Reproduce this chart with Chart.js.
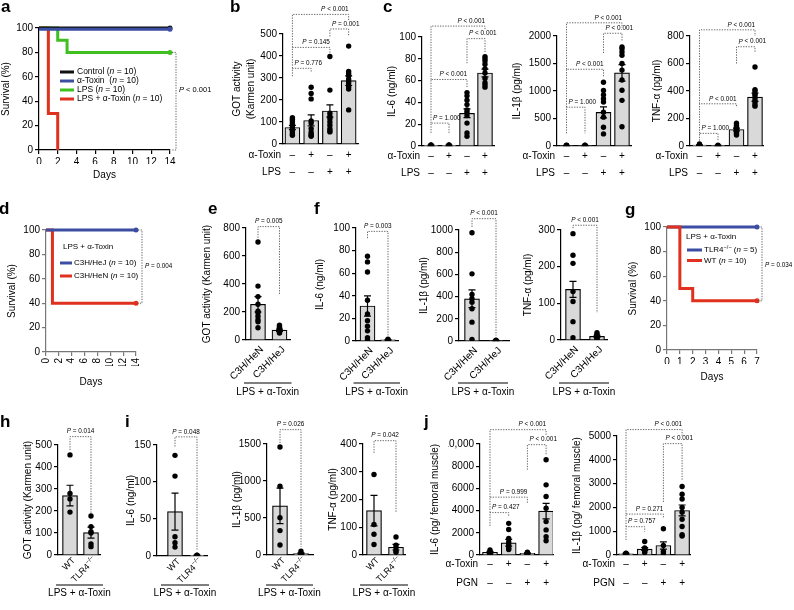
<!DOCTYPE html>
<html>
<head>
<meta charset="utf-8">
<title>Figure</title>
<script src="https://cdn.jsdelivr.net/npm/chart.js@4.4.1/dist/chart.umd.min.js"></script>
<style>
  html, body { margin: 0; padding: 0; background: #fff; }
  #fig { position: relative; width: 794px; height: 610px; overflow: hidden; }
  #fig canvas { position: absolute; }
  .tag { position: absolute; font: bold 17px "Liberation Sans", Arial, sans-serif; line-height: 20px; }
</style>
</head>
<body>
<div id="fig"></div>
<script>
// ---- survival data (days, % alive) ----
const days14 = [0, 2, 4, 6, 8, 10, 12, 14];
const days7 = [0, 1, 2, 3, 4, 5, 6, 7];
const survTicks = [0, 20, 40, 60, 80, 100];

const aControlDays = [0, 14], aControlSurv = [100, 100];
const aToxinDays = [0, 14], aToxinSurv = [99, 99];
const aLpsDays = [0, 2, 3, 14], aLpsSurv = [100, 90, 80, 80];
const aBothDays = [0, 1, 2], aBothSurv = [100, 30, 0];
const aNames = ['Control (*n* = 10)', 'α-Toxin  (*n* = 10)', 'LPS (*n* = 10)', 'LPS + α-Toxin (*n* = 10)'];

const dHeJDays = [0, 14], dHeJSurv = [100, 100];
const dHeNDays = [0, 1, 14], dHeNSurv = [100, 40, 40];
const dNames = ['C3H/HeJ (*n* = 10)', 'C3H/HeN (*n* = 10)'];

const gTlr4Days = [0, 7], gTlr4Surv = [100, 100];
const gWtDays = [0, 1, 2, 7], gWtSurv = [100, 50, 40, 40];
const gNames = ['TLR4^−/−^ (*n* = 5)', 'WT (*n* = 10)'];

// ---- group labels ----
const toxinRow = ['–', '+', '–', '+'];
const lpsRow = ['–', '–', '+', '+'];
const pgnRow = ['–', '–', '+', '+'];
const strains = ['C3H/HeN', 'C3H/HeJ'];
const genotypes = ['WT', 'TLR4^−/−^'];
const treat = 'LPS + α-Toxin';

// ---- b: GOT ----
const bTicks = [0, 100, 200, 300, 400, 500];
const bMean = [75, 107, 150, 288];
const bSem = [10, 25, 28, 22];
const bDots = [
  [120, 112, 105, 95, 85, 75, 65, 55, 45, 40],
  [258, 230, 205, 105, 95, 70, 55, 45, 40, 35],
  [398, 245, 140, 125, 115, 100, 85, 70, 60, 55],
  [445, 330, 320, 310, 295, 285, 275, 260, 250, 155]
];
const bP = ['*P* = 0.776', '*P* = 0.145', '*P* = 0.001', '*P* < 0.001'];

// ---- c: cytokines ----
const c1Ticks = [0, 20, 40, 60, 80, 100];
const c1Mean = [0.6, 0.6, 30, 67];
const c1Sem = [0.2, 0.2, 4, 3.5];
const c1Dots = [
  [1, 0.8, 0.6, 0.4], [1, 0.8, 0.6, 0.4],
  [49, 46, 42, 38, 33, 31, 28, 21, 12, 9],
  [82, 80, 78, 75, 71, 67, 62, 58, 56, 54]
];
const c1P = ['*P* = 1.000', '*P* < 0.001', '*P* < 0.001', '*P* < 0.001'];

const c2Ticks = [0, 500, 1000, 1500, 2000];
const c2Mean = [10, 10, 610, 1330];
const c2Sem = [3, 3, 100, 150];
const c2Dots = [
  [15, 10, 8, 5], [15, 10, 8, 5],
  [1160, 1010, 930, 860, 800, 615, 525, 340, 220],
  [1800, 1770, 1710, 1650, 1500, 1380, 1200, 1015, 830, 350]
];
const c2P = ['*P* = 1.000', '*P* < 0.001', '*P* < 0.001', '*P* < 0.001'];

const c3Ticks = [0, 200, 400, 600, 800];
const c3Mean = [6, 3, 120, 355];
const c3Sem = [2, 1, 10, 30];
const c3Dots = [
  [15, 8, 5, 3, 2], [5, 3, 2],
  [165, 150, 140, 130, 125, 120, 110, 100, 90, 80],
  [575, 410, 400, 380, 370, 350, 330, 320, 300, 290]
];
const c3P = ['*P* = 1.000', '*P* < 0.001', '*P* < 0.001', '*P* < 0.001'];

// ---- e, f: C3H strains ----
const eTicks = [0, 200, 400, 600, 800];
const eMean = [255, 70];
const eSem = [55, 8];
const eDots = [[700, 385, 310, 255, 205, 195, 170, 145, 130, 88], [105, 95, 90, 80, 75, 70, 65, 60, 55, 50]];
const eP = ['*P* = 0.005'];

const f1Ticks = [0, 20, 40, 60, 80, 100];
const f1Mean = [31, 1];
const f1Sem = [9, 0.3];
const f1Dots = [[75, 70, 61, 36, 24, 18, 13, 9, 3, 1], [1.5, 1, 0.8, 0.5]];
const f1P = ['*P* = 0.003'];

const f2Ticks = [0, 200, 400, 600, 800, 1000];
const f2Mean = [380, 5];
const f2Sem = [80, 1];
const f2Dots = [[975, 605, 420, 380, 350, 290, 170, 15], [8, 5, 3]];
const f2P = ['*P* < 0.001'];

const f3Ticks = [0, 100, 200, 300];
const f3Mean = [138, 10];
const f3Sem = [22, 3];
const f3Dots = [[290, 231, 209, 132, 105, 50, 6], [20, 15, 12, 10, 8, 5, 3]];
const f3P = ['*P* < 0.001'];

// ---- h, i: TLR4 ----
const hTicks = [0, 100, 200, 300, 400, 500];
const hMean = [270, 102];
const hSem = [47, 25];
const hDots = [[455, 280, 255, 195], [177, 129, 106, 100, 50, 38]];
const hP = ['*P* = 0.014'];

const i1Ticks = [0, 50, 100, 150];
const i1Mean = [60, 1];
const i1Sem = [25, 0.3];
const i1Dots = [[136, 108, 26, 18, 12], [1, 0.8, 0.6]];
const i1P = ['*P* = 0.048'];

const i2Ticks = [0, 500, 1000, 1500];
const i2Mean = [665, 20];
const i2Sem = [240, 8];
const i2Dots = [[1460, 930, 505, 330, 135], [50, 20, 10, 8, 5]];
const i2P = ['*P* = 0.026'];

const i3Ticks = [0, 100, 200, 300, 400];
const i3Mean = [160, 28];
const i3Sem = [55, 10];
const i3Dots = [[290, 110, 75, 38], [65, 35, 25, 15, 10]];
const i3P = ['*P* = 0.042'];

// ---- j: femoral muscle ----
const j1Ticks = [0, 2000, 4000, 6000, 8000, 10000];
const j1Mean = [250, 1100, 150, 3950];
const j1Sem = [80, 300, 50, 700];
const j1Dots = [
  [450, 300, 250, 200, 150, 100, 50],
  [2850, 2300, 1500, 1200, 1000, 800, 600, 500],
  [250, 200, 150, 120, 100, 80],
  [8580, 6320, 5270, 4220, 3010, 2260, 1650, 1290]
];
const j1P = ['*P* = 0.427', '*P* = 0.999', '*P* < 0.001', '*P* < 0.001'];

const j2Ticks = [0, 1000, 2000, 3000, 4000, 5000];
const j2Mean = [50, 250, 400, 1870];
const j2Sem = [15, 60, 150, 230];
const j2Dots = [
  [80, 60, 50, 40, 30, 20],
  [570, 300, 280, 250, 230, 200, 150, 100],
  [1100, 400, 150, 50],
  [2880, 2550, 2350, 2000, 1800, 1500, 1200, 850, 800]
];
const j2P = ['*P* = 0.757', '*P* = 0.271', '*P* < 0.001', '*P* < 0.001'];

// ---- styling ----
const FONT = '"Liberation Sans", Arial, Helvetica, sans-serif';
const BLACK = '#111111', BLUE = '#3b4ea3', GREEN = '#3fbf20', RED = '#e0301e';
Chart.defaults.font.family = FONT;
Chart.defaults.font.size = 10;
Chart.defaults.color = '#000';
Chart.defaults.animation = false;
Chart.defaults.plugins.legend.display = false;
Chart.defaults.plugins.tooltip.enabled = false;

const fig = document.getElementById('fig');
const M = {l: 62, t: 46, b: 62};

// '*x*' = italic, '^x^' = superscript
function rich(str) {
  return str.split(/(\*[^*]*\*|\^[^^]*\^)/).filter(s => s).map(s =>
    s[0] === '*' ? {t: s.slice(1, -1), it: true} :
    s[0] === '^' ? {t: s.slice(1, -1), sup: true} : {t: s});
}

function richWidth(ctx, str, size) {
  let w = 0;
  rich(str).forEach(s => {
    ctx.font = (s.it ? 'italic ' : '') + (s.sup ? size * 0.7 : size) + 'px ' + FONT;
    w += ctx.measureText(s.t).width;
  });
  return w;
}

function drawRich(ctx, str, x, y, size, align) {
  const total = richWidth(ctx, str, size);
  let cx = align === 'right' ? x - total : align === 'center' ? x - total / 2 : x;
  ctx.textAlign = 'left';
  ctx.textBaseline = 'middle';
  rich(str).forEach(s => {
    ctx.font = (s.it ? 'italic ' : '') + (s.sup ? size * 0.7 : size) + 'px ' + FONT;
    ctx.fillText(s.t, cx, y + (s.sup ? -size * 0.35 : 0));
    cx += ctx.measureText(s.t).width;
  });
}

function dotted(ctx, pts) {
  ctx.save();
  ctx.strokeStyle = '#555';
  ctx.lineWidth = 0.9;
  ctx.setLineDash([1.3, 1.3]);
  ctx.beginPath();
  pts.forEach((p, k) => k ? ctx.lineTo(p[0], p[1]) : ctx.moveTo(p[0], p[1]));
  ctx.stroke();
  ctx.restore();
}

// draws error bars, brackets, axis titles, group labels, legends
const decor = {
  id: 'decor',
  afterDraw(chart) {
    const o = chart.canvas._decor;
    const ctx = chart.ctx, xs = chart.scales.x, ys = chart.scales.y, A = chart.chartArea;
    const ox = o.off[0], oy = o.off[1];
    ctx.save();
    ctx.fillStyle = '#000';

    // mean +- SEM
    if (o.mean) {
      ctx.strokeStyle = '#000';
      ctx.lineWidth = 1.2;
      o.mean.forEach((m, i) => {
        const x = xs.getPixelForValue(i);
        const y1 = ys.getPixelForValue(m + o.sem[i]);
        const y2 = ys.getPixelForValue(Math.max(0, m - o.sem[i]));
        ctx.beginPath();
        ctx.moveTo(x, y1); ctx.lineTo(x, y2);
        ctx.moveTo(x - 3.5, y1); ctx.lineTo(x + 3.5, y1);
        if (m - o.sem[i] > 0) { ctx.moveTo(x - 3.5, y2); ctx.lineTo(x + 3.5, y2); }
        ctx.stroke();
      });
    }

    // significance brackets [from, to, top, leftLeg, rightLeg, labelIndex]
    (o.brackets || []).forEach(b => {
      const x1 = xs.getPixelForValue(b[0]), x2 = xs.getPixelForValue(b[1]);
      const yt = ys.getPixelForValue(b[2]);
      dotted(ctx, [[x1, ys.getPixelForValue(b[3])], [x1, yt], [x2, yt], [x2, ys.getPixelForValue(b[4])]]);
      const txt = o.p[b[5]];
      const w = richWidth(ctx, txt, 6.4);
      if (o.pCenter) drawRich(ctx, txt, (x1 + x2) / 2, yt - 5, 6.4, 'center');
      else if (w <= x2 - x1 + 2) drawRich(ctx, txt, x2, yt - 5, 6.4, 'right');
      else drawRich(ctx, txt, x1 + 2, yt - 5, 6.4, 'left');
    });

    // +/- rows
    (o.rows || []).forEach(r => {
      const y = A.bottom + r[2];
      drawRich(ctx, r[0], A.left - 2, y, 10, 'right');
      r[1].forEach((v, i) => drawRich(ctx, v, xs.getPixelForValue(i), y, 10, 'center'));
    });

    // slanted names + treatment line
    if (o.rot) {
      o.rot.forEach((s, i) => {
        ctx.save();
        ctx.translate(xs.getPixelForValue(i) + 4, A.bottom + o.rotDy);
        ctx.rotate(-Math.PI / 4);
        drawRich(ctx, s, 0, 0, o.rotSize, 'right');
        ctx.restore();
      });
      const xa = xs.getPixelForValue(0) - 14, xb = xs.getPixelForValue(o.rot.length - 1) + 12;
      ctx.strokeStyle = '#000';
      ctx.lineWidth = 1;
      ctx.beginPath();
      ctx.moveTo(xa, A.bottom + o.group[1]);
      ctx.lineTo(xb, A.bottom + o.group[1]);
      ctx.stroke();
      drawRich(ctx, o.group[0], (xa + xb) / 2, A.bottom + o.group[2], 10, 'center');
    }

    // y title
    if (o.yTitle) {
      const yc = (A.top + A.bottom) / 2;
      o.yTitle.forEach((t, k) => {
        ctx.save();
        ctx.translate(A.left - o.yDx[k], yc);
        ctx.rotate(-Math.PI / 2);
        drawRich(ctx, t, 0, 0, 10, 'center');
        ctx.restore();
      });
    }

    if (o.xTitle) drawRich(ctx, o.xTitle[0], (A.left + A.right) / 2, o.xTitle[1] - oy, 10, 'center');

    // survival legend (page coordinates)
    if (o.legend) {
      const g = o.legend;
      if (g.title) drawRich(ctx, g.title, g.tx0 - ox, g.ty - oy, g.size, 'left');
      g.items.forEach((it, k) => {
        const y = g.y0 + k * g.dy - oy;
        ctx.strokeStyle = it[1];
        ctx.lineWidth = 3;
        ctx.beginPath();
        ctx.moveTo(g.x0 - ox, y);
        ctx.lineTo(g.x1 - ox, y);
        ctx.stroke();
        drawRich(ctx, it[0], g.tx - ox, y, g.size, 'left');
      });
    }

    // survival log-rank bracket
    if (o.kmP) {
      const p = o.kmP;
      const x = xs.getPixelForValue(xs.max) + p.dx;
      const y1 = ys.getPixelForValue(p.ya), y2 = ys.getPixelForValue(p.yb);
      dotted(ctx, [[x - 4, y1], [x, y1], [x, y2], [x - 4, y2]]);
      drawRich(ctx, p.text, x + 3, ys.getPixelForValue(p.ty), p.size, 'left');
    }
    ctx.restore();
  }
};

function makeCanvas(L, mr) {
  const c = document.createElement('canvas');
  const left = L.ax - M.l, top = L.top - M.t;
  c.width = Math.round(L.end - L.ax + M.l + mr);
  c.height = Math.round(L.bot - L.top + M.t + M.b);
  c.style.left = left + 'px';
  c.style.top = top + 'px';
  fig.appendChild(c);
  return {c, left, top};
}

function yAxis(ticks, col, fmt) {
  return {
    min: 0, max: ticks[ticks.length - 1],
    afterBuildTicks: s => { s.ticks = ticks.map(v => ({value: v})); },
    afterFit: s => { s.width = 32; },
    ticks: {padding: 2, callback: fmt || (v => v)},
    grid: {drawOnChartArea: false, drawTicks: true, tickLength: 4, color: col, lineWidth: 1.2},
    border: {display: true, color: col, width: 1.2}
  };
}

function barChart(L, d) {
  const {c, left, top} = makeCanvas(L, 14);
  const xmin = -(L.c0 - L.ax) / L.w;
  const xmax = xmin + (L.end - L.ax) / L.w;
  const pts = [];
  d.dots.forEach((arr, i) => arr.forEach(v => pts.push({x: i, y: v})));
  c._decor = Object.assign({off: [left, top], rotDy: 8, rotSize: 10}, d);
  new Chart(c, {
    type: 'bar',
    data: {
      datasets: [
        {type: 'bar', data: d.mean.map((v, i) => ({x: i, y: v})), backgroundColor: '#d9d9d9',
          borderColor: '#000', borderWidth: 1.2, barThickness: 15, order: 2},
        {type: 'scatter', data: pts, pointRadius: 2.7, pointBackgroundColor: '#000',
          pointBorderWidth: 0, order: 1}
      ]
    },
    options: {
      responsive: false,
      animation: false,
      layout: {padding: {left: M.l - 32, top: M.t, right: 14, bottom: M.b - 8}},
      scales: {
        x: {type: 'linear', min: xmin, max: xmax, offset: false, ticks: {display: false},
          grid: {display: false}, border: {color: '#000', width: 1.2},
          afterFit: s => { s.height = 8; }},
        y: yAxis(d.ticks, '#000', d.fmt)
      }
    },
    plugins: [decor]
  });
}

function kmChart(L, d) {
  const {c, left, top} = makeCanvas(L, L.mr);
  c._decor = Object.assign({off: [left, top]}, d);
  new Chart(c, {
    type: 'line',
    data: {
      datasets: d.series.map(s => ({
        data: s[0].map((x, i) => ({x: x, y: s[1][i]})),
        borderColor: s[2], borderWidth: 3, stepped: 'before', fill: false, clip: false,
        pointRadius: s[0].map((x, i) => (i === s[0].length - 1 && s[3]) ? 2.5 : 0),
        pointBackgroundColor: s[2], pointBorderWidth: 0
      }))
    },
    options: {
      responsive: false,
      animation: false,
      layout: {padding: {left: M.l - 32, top: M.t, right: L.mr, bottom: M.b - 14}},
      scales: {
        x: {type: 'linear', min: 0, max: d.xticks[d.xticks.length - 1],
          afterBuildTicks: s => { s.ticks = d.xticks.map(v => ({value: v})); },
          afterFit: s => { s.height = 14; },
          ticks: {autoSkip: false, minRotation: L.rot, maxRotation: L.rot, padding: 2},
          grid: {drawOnChartArea: false, tickLength: 4, color: d.col, lineWidth: 1.2},
          border: {color: d.col, width: 1.2}},
        y: yAxis(survTicks, d.col)
      }
    },
    plugins: [decor]
  });
}

// ---- a ----
kmChart({ax: 39, end: 170, top: 28, bot: 150, mr: 50, rot: 0}, {
  xticks: days14, col: '#000',
  series: [
    [aToxinDays, aToxinSurv, BLUE, true],
    [aControlDays, aControlSurv, BLACK, true],
    [aLpsDays, aLpsSurv, GREEN, true],
    [aBothDays, aBothSurv, RED, false]
  ],
  yTitle: ['Survival (%)'], yDx: [33], xTitle: ['Days', 175],
  legend: {x0: 60, x1: 74, tx: 77, y0: 72, dy: 9, size: 8.5,
    items: [[aNames[0], BLACK], [aNames[1], BLUE], [aNames[2], GREEN], [aNames[3], RED]]},
  kmP: {dx: 6, ya: 80, yb: 0, ty: 49, text: '*P* < 0.001', size: 7.5}
});

// ---- b ----
barChart({ax: 283, end: 358, top: 34, bot: 143.5, c0: 292.4, w: 18.75}, {
  ticks: bTicks, mean: bMean, sem: bSem, dots: bDots, p: bP,
  yTitle: ['GOT activity', '(Karmen unit)'], yDx: [46, 32],
  rows: [['α-Toxin', toxinRow, 11], ['LPS', lpsRow, 28]],
  brackets: [[0, 1, 344, 308, 328, 0], [0, 2, 439, 344, 414, 1], [2, 3, 523, 489, 492, 2], [0, 3, 589, 439, 560, 3]]
});

// ---- c ----
barChart({ax: 422, end: 494, top: 37, bot: 146, c0: 431, w: 18}, {
  ticks: c1Ticks, mean: c1Mean, sem: c1Sem, dots: c1Dots, p: c1P,
  yTitle: ['IL-6 (ng/ml)'], yDx: [30],
  rows: [['α-Toxin', toxinRow, 10], ['LPS', lpsRow, 27]],
  brackets: [[0, 1, 21, 12, 12, 0], [0, 2, 61, 21, 53, 1], [2, 3, 98.5, 76, 86, 2], [0, 3, 110, 61, 106, 3]]
});
barChart({ax: 557, end: 631, top: 36, bot: 145.5, c0: 566.5, w: 18.5}, {
  ticks: c2Ticks, mean: c2Mean, sem: c2Sem, dots: c2Dots, p: c2P,
  yTitle: ['IL-1β (pg/ml)'], yDx: [40],
  rows: [['α-Toxin', toxinRow, 10], ['LPS', lpsRow, 27]],
  brackets: [[0, 1, 706, 230, 230, 0], [0, 2, 1395, 706, 1267, 1], [2, 3, 2050, 1690, 1895, 2], [0, 3, 2240, 1395, 2150, 3]]
});
barChart({ax: 690, end: 763, top: 36, bot: 145.5, c0: 699.5, w: 18.5}, {
  ticks: c3Ticks, mean: c3Mean, sem: c3Sem, dots: c3Dots, p: c3P,
  yTitle: ['TNF-α (pg/ml)'], yDx: [33],
  rows: [['α-Toxin', toxinRow, 10], ['LPS', lpsRow, 27]],
  brackets: [[0, 1, 92, 39, 39, 0], [0, 2, 307, 92, 280, 1], [2, 3, 722, 600, 678, 2], [0, 3, 845, 307, 800, 3]]
});

// ---- d ----
kmChart({ax: 46, end: 136, top: 230, bot: 352, mr: 45, rot: 90}, {
  xticks: days14, col: '#777',
  series: [[dHeJDays, dHeJSurv, BLUE, true], [dHeNDays, dHeNSurv, RED, true]],
  yTitle: ['Survival (%)'], yDx: [34], xTitle: ['Days', 382],
  legend: {title: treat, tx0: 63, ty: 247, x0: 60, x1: 72, tx: 74, y0: 263, dy: 13, size: 8,
    items: [[dNames[0], BLUE], [dNames[1], RED]]},
  kmP: {dx: 6, ya: 100, yb: 40, ty: 70, text: '*P* = 0.004', size: 6.3}
});

// ---- e ----
barChart({ax: 246, end: 290, top: 228, bot: 340, c0: 258, w: 21.5}, {
  ticks: eTicks, mean: eMean, sem: eSem, dots: eDots, p: eP, pCenter: true,
  yTitle: ['GOT activity (Karmen unit)'], yDx: [39],
  rot: strains, group: [treat, 43, 52],
  brackets: [[0, 1, 810, 730, 320, 0]]
});

// ---- f ----
barChart({ax: 356, end: 398, top: 228, bot: 341, c0: 367.5, w: 20.5}, {
  ticks: f1Ticks, mean: f1Mean, sem: f1Sem, dots: f1Dots, p: f1P, pCenter: true,
  yTitle: ['IL-6 (ng/ml)'], yDx: [36],
  rot: strains, group: [treat, 42, 51],
  brackets: [[0, 1, 97, 91, 5, 0]]
});
barChart({ax: 459, end: 509, top: 230, bot: 341, c0: 472, w: 24}, {
  ticks: f2Ticks, mean: f2Mean, sem: f2Sem, dots: f2Dots, p: f2P, pCenter: true,
  yTitle: ['IL-1β (pg/ml)'], yDx: [35],
  rot: strains, group: [treat, 42, 51],
  brackets: [[0, 1, 1102, 1027, 50, 0]]
});
barChart({ax: 561, end: 607, top: 230, bot: 340, c0: 573, w: 24}, {
  ticks: f3Ticks, mean: f3Mean, sem: f3Sem, dots: f3Dots, p: f3P, pCenter: true,
  yTitle: ['TNF-α (pg/ml)'], yDx: [33],
  rot: strains, group: [treat, 43, 52],
  brackets: [[0, 1, 313, 305, 74, 0]]
});

// ---- g ----
kmChart({ax: 667, end: 757, top: 227, bot: 350, mr: 40, rot: 0}, {
  xticks: days7, col: '#777',
  series: [[gWtDays, gWtSurv, RED, true], [gTlr4Days, gTlr4Surv, BLUE, true]],
  yTitle: ['Survival (%)'], yDx: [34], xTitle: ['Days', 377],
  legend: {title: treat, tx0: 686, ty: 237, x0: 687, x1: 702, tx: 704, y0: 250, dy: 10.5, size: 8,
    items: [[gNames[0], BLUE], [gNames[1], RED]]},
  kmP: {dx: 5, ya: 100, yb: 40, ty: 69, text: '*P* = 0.034', size: 6.3}
});

// ---- h ----
barChart({ax: 58, end: 100, top: 445, bot: 555, c0: 70, w: 21}, {
  ticks: hTicks, mean: hMean, sem: hSem, dots: hDots, p: hP, pCenter: true,
  yTitle: ['GOT activity (Karmen unit)'], yDx: [30],
  rot: genotypes, rotDy: 4, rotSize: 9, group: [treat, 30, 38],
  brackets: [[0, 1, 538, 477, 190, 0]]
});

// ---- i ----
barChart({ax: 157, end: 207, top: 445, bot: 556, c0: 175, w: 22}, {
  ticks: i1Ticks, mean: i1Mean, sem: i1Sem, dots: i1Dots, p: i1P, pCenter: true,
  yTitle: ['IL-6 (ng/ml)'], yDx: [26],
  rot: genotypes, rotDy: 4, rotSize: 9, group: [treat, 29, 37],
  brackets: [[0, 1, 161, 148, 8, 0]]
});
barChart({ax: 267, end: 313, top: 444, bot: 555, c0: 280, w: 21}, {
  ticks: i2Ticks, mean: i2Mean, sem: i2Sem, dots: i2Dots, p: i2P, pCenter: true,
  yTitle: ['IL-1β (pg/ml)'], yDx: [30],
  rot: genotypes, rotDy: 4, rotSize: 9, group: [treat, 30, 38],
  brackets: [[0, 1, 1694, 1513, 112, 0]]
});
barChart({ax: 363, end: 405, top: 444, bot: 555, c0: 374, w: 22}, {
  ticks: i3Ticks, mean: i3Mean, sem: i3Sem, dots: i3Dots, p: i3P, pCenter: true,
  yTitle: ['TNF-α (pg/ml)'], yDx: [30],
  rot: genotypes, rotDy: 4, rotSize: 9, group: [treat, 30, 38],
  brackets: [[0, 1, 412, 368, 151, 0]]
});

// ---- j ----
barChart({ax: 480, end: 553, top: 444, bot: 555, c0: 490, w: 18.7}, {
  ticks: j1Ticks, mean: j1Mean, sem: j1Sem, dots: j1Dots, p: j1P,
  fmt: v => v === 10000 ? '10,000' : String(v),
  yTitle: ['IL-6 (pg/ femoral muscle)'], yDx: [45],
  rows: [['α-Toxin', toxinRow, 9], ['PGN', pgnRow, 28]],
  brackets: [[0, 1, 3820, 2620, 3520, 0], [0, 2, 5210, 3820, 4670, 1], [2, 3, 9940, 7680, 9030, 2], [0, 3, 11290, 5210, 10800, 3]]
});
barChart({ax: 617, end: 690, top: 436, bot: 555, c0: 626, w: 18.7}, {
  ticks: j2Ticks, mean: j2Mean, sem: j2Sem, dots: j2Dots, p: j2P,
  yTitle: ['IL-1β (pg/ femoral muscle)'], yDx: [40],
  rows: [['α-Toxin', toxinRow, 9], ['PGN', pgnRow, 28]],
  brackets: [[0, 1, 1190, 630, 980, 0], [0, 2, 1720, 1190, 1540, 1], [2, 3, 4680, 2230, 3140, 2], [0, 3, 5270, 1720, 5000, 3]]
});

// panel letters
[['a', 1, -3], ['b', 230, -3], ['c', 383, -3], ['d', -1, 199], ['e', 208, 199], ['f', 314, 199],
 ['g', 625, 200], ['h', 0, 412], ['i', 125, 412], ['j', 424, 412]].forEach(t => {
  const el = document.createElement('div');
  el.className = 'tag';
  el.textContent = t[0];
  el.style.left = t[1] + 'px';
  el.style.top = t[2] + 'px';
  fig.appendChild(el);
});
</script>
</body>
</html>
